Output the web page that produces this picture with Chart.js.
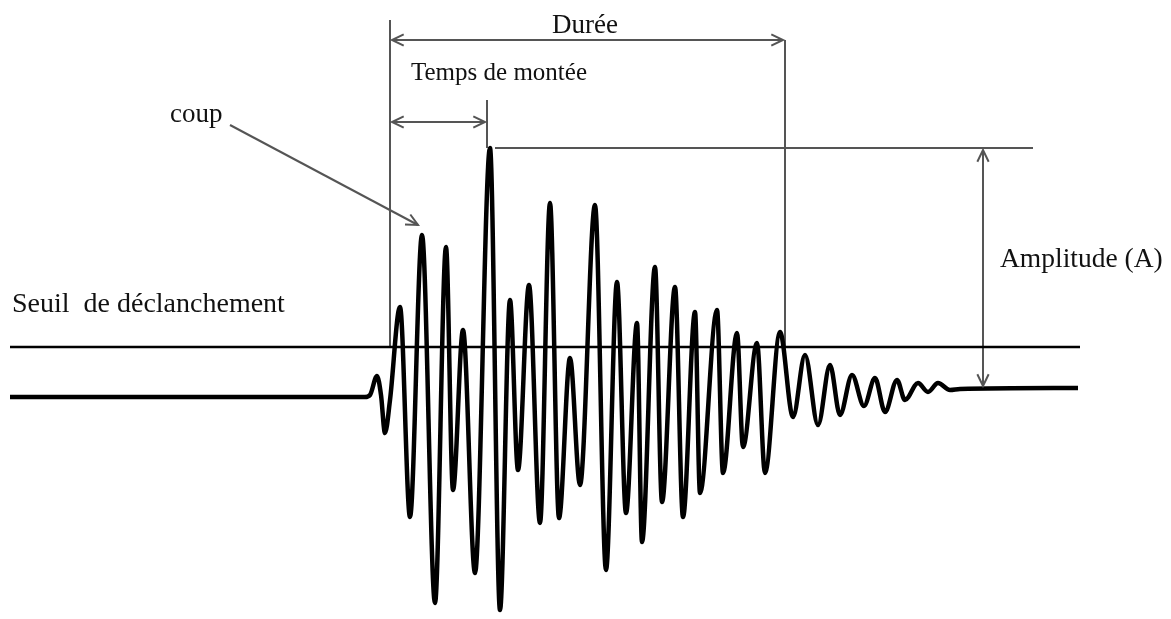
<!DOCTYPE html>
<html>
<head>
<meta charset="utf-8">
<script src="https://cdn.jsdelivr.net/npm/chart.js@4"></script>
<style>
  html, body { margin: 0; padding: 0; background: #fff; }
  #wrap { width: 1171px; height: 619px; }
</style>
</head>
<body>
<div id="wrap"><canvas id="burstChart"></canvas></div>
<script>
// Signal (time, level); level grows downward like the sketch
const signalTime = [10, 365, 370, 377, 381, 385, 390, 400, 410, 422, 435, 446, 453, 463, 475, 490, 500,
  510, 518, 529, 540, 550, 559, 570, 580, 595, 606, 617, 626, 637, 642, 655, 662, 675, 683, 695, 700,
  717, 723, 737, 743, 757, 765, 780, 793, 805, 818, 830, 840, 852, 864, 875, 885, 897, 905, 918, 928,
  938, 950, 960, 1078];
const signalLevel = [397, 397, 395, 376, 395, 433, 400, 307, 517, 235, 603, 247, 490, 330, 573, 148, 610,
  300, 470, 285, 523, 203, 518, 358, 485, 205, 570, 282, 513, 323, 542, 267, 502, 287, 517, 312, 493,
  310, 473, 333, 447, 343, 473, 332, 417, 355, 425, 365, 415, 375, 406, 378, 412, 380, 400, 383, 392,
  383, 390, 389, 388];

// Marker levels and times
const thresholdLevel = 347;
const baselineLevel = 388;
const peakLevel = 148;
const triggerTime = 390;
const peakTime = 487;
const endTime = 785;

const pts = (xs, ys) => xs.map((x, i) => ({ x: x, y: ys[i] }));

const grey = '#555555';

function guide(label, xs, ys, heads) {
  return {
    label: label,
    data: pts(xs, ys),
    borderColor: grey,
    borderWidth: 2,
    pointRadius: 0,
    tension: 0,
    arrowHeads: heads || null
  };
}

// Arrow heads + labels drawn over the chart
const overlay = {
  id: 'overlay',
  afterDatasetsDraw(chart) {
    const ctx = chart.ctx;
    const sx = chart.scales.x, sy = chart.scales.y;
    ctx.save();
    chart.data.datasets.forEach(ds => {
      if (!ds.arrowHeads) return;
      const p = ds.data.map(d => ({ x: sx.getPixelForValue(d.x), y: sy.getPixelForValue(d.y) }));
      const ends = [];
      if (ds.arrowHeads === 'both' || ds.arrowHeads === 'end') ends.push([p[p.length - 1], p[p.length - 2]]);
      if (ds.arrowHeads === 'both' || ds.arrowHeads === 'start') ends.push([p[0], p[1]]);
      ctx.strokeStyle = ds.borderColor;
      ctx.lineWidth = 2;
      ends.forEach(([tip, from]) => {
        const a = Math.atan2(tip.y - from.y, tip.x - from.x);
        const len = 13, spread = 0.45;
        ctx.beginPath();
        ctx.moveTo(tip.x - len * Math.cos(a - spread), tip.y - len * Math.sin(a - spread));
        ctx.lineTo(tip.x, tip.y);
        ctx.lineTo(tip.x - len * Math.cos(a + spread), tip.y - len * Math.sin(a + spread));
        ctx.stroke();
      });
    });

    ctx.fillStyle = '#111';
    ctx.textBaseline = 'alphabetic';
    ctx.textAlign = 'center';
    ctx.font = '27px "Liberation Serif"';
    ctx.fillText('Durée', sx.getPixelForValue(585), sy.getPixelForValue(33));
    ctx.textAlign = 'left';
    ctx.font = '25px "Liberation Serif"';
    ctx.fillText('Temps de montée', sx.getPixelForValue(411), sy.getPixelForValue(80));
    ctx.font = '27px "Liberation Serif"';
    ctx.fillText('coup', sx.getPixelForValue(170), sy.getPixelForValue(122));
    ctx.font = '28px "Liberation Serif"';
    ctx.fillText('Seuil  de déclanchement', sx.getPixelForValue(12), sy.getPixelForValue(312));
    ctx.font = '27.5px "Liberation Serif"';
    ctx.fillText('Amplitude (A)', sx.getPixelForValue(1000), sy.getPixelForValue(267));
    ctx.restore();
  }
};

new Chart(document.getElementById('burstChart'), {
  type: 'line',
  data: {
    datasets: [
      {
        label: 'Signal',
        data: pts(signalTime, signalLevel),
        borderColor: '#000',
        borderWidth: 4.5,
        borderJoinStyle: 'round',
        pointRadius: 0,
        cubicInterpolationMode: 'monotone'
      },
      {
        label: 'Seuil',
        data: pts([10, 1080], [thresholdLevel, thresholdLevel]),
        borderColor: '#000',
        borderWidth: 2.5,
        pointRadius: 0
      },
      guide('trigger', [triggerTime, triggerTime], [20, thresholdLevel]),
      guide('end', [endTime, endTime], [40, thresholdLevel]),
      guide('peak mark', [peakTime, peakTime], [100, peakLevel]),
      guide('peak level', [peakTime + 8, 1033], [peakLevel, peakLevel]),
      guide('Durée', [triggerTime + 2, endTime - 2], [40, 40], 'both'),
      guide('Temps de montée', [triggerTime + 2, peakTime - 2], [122, 122], 'both'),
      guide('Amplitude', [983, 983], [peakLevel + 2, baselineLevel - 2], 'both'),
      guide('coup', [230, 418], [125, 225], 'end')
    ]
  },
  options: {
    responsive: true,
    maintainAspectRatio: false,
    animation: false,
    layout: { padding: 0 },
    plugins: { legend: { display: false }, tooltip: { enabled: false } },
    scales: {
      x: { type: 'linear', min: 0, max: 1171, display: false },
      y: { type: 'linear', min: 0, max: 619, reverse: true, display: false }
    }
  },
  plugins: [overlay]
});
</script>
</body>
</html>
